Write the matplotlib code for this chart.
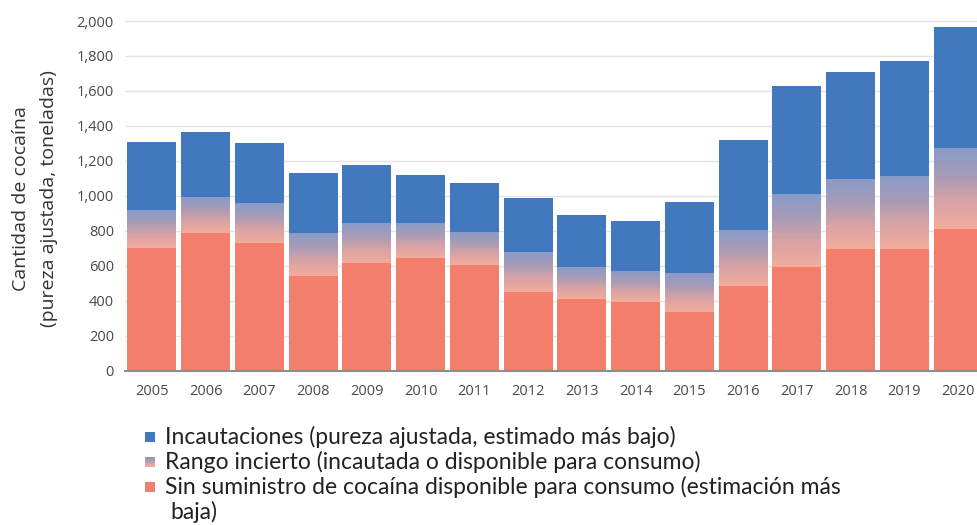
import numpy as np
import matplotlib
matplotlib.use("Agg")
import matplotlib.pyplot as plt
from matplotlib.colors import LinearSegmentedColormap
from matplotlib.patches import Rectangle

# ── data (toneladas, pureza ajustada) ─────────────────────────────────────
years = ["2005", "2006", "2007", "2008", "2009", "2010", "2011", "2012",
         "2013", "2014", "2015", "2016", "2017", "2018", "2019", "2020"]
# lower estimate available for consumption (red part)
no_supply = [699, 785, 728, 541, 613, 642, 604, 451,
             409, 394, 337, 485, 594, 694, 694, 808]
# top of the uncertain range
uncertain_top = [918, 995, 957, 789, 846, 846, 794, 680,
                 594, 571, 556, 804, 1010, 1096, 1113, 1271]
# total (top of the seizures block)
total = [1309, 1367, 1304, 1128, 1176, 1119, 1075, 985,
         890, 855, 962, 1319, 1630, 1710, 1771, 1967]

legend_labels = [
    "Incautaciones (pureza ajustada, estimado más bajo)",
    "Rango incierto (incautada o disponible para consumo)",
    "Sin suministro de cocaína disponible para consumo (estimación más\nbaja)",
]

BLUE = "#4279be"
RED = "#f37e6c"
grad = LinearSegmentedColormap.from_list(
    "unc", ["#f2ab9c", "#d9a2a4", "#a79bb5", "#8a9bc8"])

plt.rcParams["font.family"] = ["Open Sans", "DejaVu Sans"]

fig = plt.figure(figsize=(9.77, 5.25), dpi=100)
ax = fig.add_axes([125 / 977, (525 - 370.5) / 525, 860 / 977, 358.2 / 525])

x = np.arange(len(years))
w = 0.91
n_steps = 40

ax.bar(x, no_supply, width=w, color=RED, linewidth=0, zorder=2)
# uncertain range drawn as a vertical gradient of thin slices
for xi, lo, hi in zip(x, no_supply, uncertain_top):
    step = (hi - lo) / n_steps
    for k in range(n_steps):
        ax.bar(xi, step, bottom=lo + k * step, width=w,
               color=grad(k / (n_steps - 1)), linewidth=0, zorder=2)
ax.bar(x, np.array(total) - np.array(uncertain_top), bottom=uncertain_top,
       width=w, color=BLUE, linewidth=0, zorder=2)

ax.set_xlim(-0.5, len(years) - 0.5)
ax.set_ylim(0, 2050)
ax.set_yticks(np.arange(0, 2001, 200))
ax.set_yticklabels([f"{v:,}" for v in range(0, 2001, 200)])
ax.set_xticks(x)
ax.set_xticklabels(years)
ax.tick_params(axis="both", length=0, labelsize=10.5, colors="#4a4a4a")
ax.tick_params(axis="y", pad=8)
ax.tick_params(axis="x", pad=10)
ax.grid(axis="y", color="#e3e3e3", linewidth=1, zorder=0)
ax.set_axisbelow(True)
for s in ["top", "right", "left"]:
    ax.spines[s].set_visible(False)
ax.spines["bottom"].set_color("#8c8c8c")
ax.spines["bottom"].set_linewidth(1.5)
ax.spines["bottom"].set_zorder(3)

fig.text(21 / 977, 1 - 199 / 525, "Cantidad de cocaína", rotation=90,
         ha="center", va="center", fontsize=14, color="#333333")
fig.text(49 / 977, 1 - 199 / 525, "(pureza ajustada, toneladas)", rotation=90,
         ha="center", va="center", fontsize=14, color="#333333")

# ── legend ─────────────────────────────────────────────────────────────────
leg_y = [437, 462, 487]
sq = 10
lfont = ["Lato", "DejaVu Sans"]
for i, (yy, lab) in enumerate(zip(leg_y, legend_labels)):
    yb = 1 - (yy + sq / 2) / 525
    if i == 1:
        for k in range(10):
            fig.patches.append(Rectangle(
                (145 / 977, yb + k * sq / 10 / 525), sq / 977,
                sq / 10 / 525, transform=fig.transFigure,
                color=grad(k / 9), linewidth=0))
    else:
        fig.patches.append(Rectangle(
            (145 / 977, yb), sq / 977, sq / 525, transform=fig.transFigure,
            color=BLUE if i == 0 else RED, linewidth=0))
    lines = lab.split("\n")
    for j, line in enumerate(lines):
        fig.text((165 if j == 0 else 170) / 977, 1 - (yy + 25 * j) / 525,
                 line, ha="left", va="center", fontsize=16.5,
                 color="#222222", family=lfont)

fig.savefig("out.png", dpi=100)
